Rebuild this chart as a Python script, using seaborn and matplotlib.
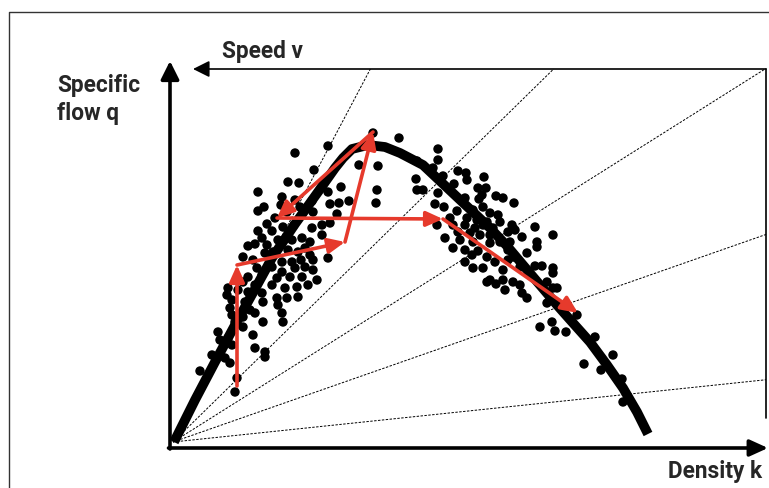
import matplotlib
matplotlib.use("Agg")
import matplotlib.pyplot as plt
import seaborn as sns

# Observations on the free-flow (uncongested) side of the diagram
density_free = [122, 155, 141, 186, 115, 126, 168, 85, 109, 108,
                122, 139, 155, 157, 166, 176, 91, 85, 114, 127,
                140, 164, 102, 94, 85, 99, 110, 121, 139, 149,
                157, 149, 89, 75, 82, 94, 105, 119, 129, 137,
                100, 92, 115, 125, 132, 137, 70, 80, 109, 119,
                128, 140, 155, 84, 99, 109, 122, 132, 140, 75,
                89, 104, 117, 129, 144, 70, 82, 99, 112, 124,
                135, 55, 65, 75, 54, 89, 104, 114, 125, 59,
                72, 90, 105, 57, 77, 59, 70, 82, 109, 90,
                62, 110, 70, 45, 80, 47, 55, 59, 82, 92,
                92, 39, 52, 57, 27, 64, 62, 200, 205, 204,
                203]
flow_free = [289, 296, 272, 277, 260, 259, 255, 250, 245, 237,
             242, 241, 250, 238, 239, 241, 235, 231, 230, 235,
             230, 228, 224, 218, 211, 211, 215, 217, 214, 217,
             219, 207, 204, 196, 198, 197, 202, 202, 204, 200,
             190, 189, 192, 190, 194, 187, 185, 182, 180, 180,
             182, 182, 184, 174, 175, 170, 174, 175, 172, 165,
             167, 164, 165, 165, 162, 160, 157, 157, 154, 155,
             157, 154, 152, 150, 147, 149, 144, 144, 145, 142,
             140, 140, 137, 134, 132, 127, 125, 129, 129, 120,
             120, 120, 115, 110, 107, 102, 104, 97, 94, 90,
             85, 87, 84, 79, 71, 64, 50, 309, 276, 252,
             239]

# Observations on the congested side
density_congested = [226, 265, 265, 244, 260, 285, 293, 270, 311, 243,
                     294, 281, 305, 313, 244, 250, 265, 309, 323, 330,
                     292, 306, 262, 271, 341, 310, 300, 284, 317, 325,
                     277, 294, 304, 314, 327, 264, 280, 292, 302, 310,
                     320, 339, 342, 362, 335, 285, 297, 307, 317, 349,
                     380, 272, 287, 300, 327, 337, 364, 317, 280, 292,
                     305, 335, 364, 354, 299, 314, 340, 292, 322, 335,
                     300, 310, 330, 347, 362, 369, 380, 380, 317, 330,
                     340, 347, 374, 314, 323, 332, 349, 354, 384, 380,
                     374, 377, 367, 379, 382, 393, 422, 440, 411, 428,
                     449, 450, 404]
flow_congested = [304, 293, 282, 281, 274, 271, 269, 266, 265, 263,
                  262, 258, 254, 254, 252, 252, 249, 247, 246, 244,
                  244, 243, 238, 235, 239, 235, 232, 231, 229, 227,
                  224, 224, 222, 220, 220, 217, 217, 217, 214, 217,
                  214, 217, 212, 215, 210, 210, 209, 207, 207, 205,
                  207, 204, 202, 200, 200, 200, 200, 199, 194, 192,
                  191, 192, 195, 189, 187, 185, 185, 180, 180, 182,
                  174, 174, 172, 175, 176, 176, 174, 169, 162, 162,
                  160, 157, 160, 160, 158, 152, 149, 144, 154, 154,
                  139, 144, 115, 120, 111, 110, 105, 87, 78, 72,
                  63, 40, 127]

# Fitted flow-density relation
curve_density = [1, 22, 42, 62, 82, 99, 122, 145, 162, 170,
                 179, 195, 212, 227, 250, 267, 284, 300, 317, 334,
                 350, 367, 384, 400, 417, 434, 450, 464, 475]
curve_flow = [0, 42, 80, 117, 153, 184, 218, 250, 274, 284,
              293, 297, 295, 289, 277, 261, 245, 230, 214, 196,
              177, 157, 137, 119, 100, 77, 54, 30, 8]

# A sequence of traffic states traced through the diagram
path_density = [64, 64, 172, 200, 104, 270, 405]
path_flow = [56, 177, 200, 310, 224, 223, 129]

# Constant-speed rays (speed = flow / density)
ray_speeds = [1.89, 0.98, 0.63, 0.35, 0.105]

K_MAX, Q_MAX = 593, 373
RED = "#e63a2c"
FONT = ["Roboto", "DejaVu Sans"]
LABEL_SIZE = 16.3
DOT_SIZE = 46

sns.set_theme(style="white")
fig = plt.figure(figsize=(7.69, 4.88), dpi=100)
ax = fig.add_axes([0, 0, 1, 1])
ax.set_xlim(-173, 596)
ax.set_ylim(-46, 442)
ax.axis("off")

# speed rays, clipped to the frame
for v in ray_speeds:
    k_end = min(K_MAX, Q_MAX / v)
    ax.plot([0, k_end], [0, v * k_end], color="black", lw=0.7,
            ls=(0, (2.5, 1.5)), zorder=1)

# right edge of the speed frame
ax.plot([K_MAX, K_MAX], [Q_MAX, 24], color="black", lw=1.2, zorder=1)

# speed axis (pointing left)
ax.annotate("", xy=(20, Q_MAX), xytext=(K_MAX, Q_MAX),
            arrowprops=dict(arrowstyle="-|>,head_length=10,head_width=5",
                            mutation_scale=1, lw=1.2, color="black",
                            shrinkA=0, shrinkB=0))

# flow and density axes
ax.annotate("", xy=(-3, 381), xytext=(-3, -7),
            arrowprops=dict(arrowstyle="-|>,head_length=11,head_width=5.5",
                            mutation_scale=1, lw=2.6, color="black",
                            shrinkA=0, shrinkB=0))
ax.annotate("", xy=(595, -6), xytext=(-4.5, -6),
            arrowprops=dict(arrowstyle="-|>,head_length=11,head_width=5",
                            mutation_scale=1, lw=2.6, color="black",
                            shrinkA=0, shrinkB=0))

# measurements
sns.scatterplot(x=density_free, y=flow_free, s=DOT_SIZE, color="black",
                edgecolor="none", linewidth=0, ax=ax, zorder=3, legend=False)
sns.scatterplot(x=density_congested, y=flow_congested, s=DOT_SIZE,
                color="black", edgecolor="none", linewidth=0, ax=ax,
                zorder=3, legend=False)

# fitted curve
sns.lineplot(x=curve_density, y=curve_flow, sort=False, estimator=None,
             color="black", lw=7, solid_capstyle="butt", ax=ax, zorder=4)

# trajectory of states
for i in range(len(path_density) - 1):
    ax.annotate("", xy=(path_density[i + 1], path_flow[i + 1]),
                xytext=(path_density[i], path_flow[i]),
                arrowprops=dict(arrowstyle="-|>,head_length=10,head_width=4.5",
                                mutation_scale=1, lw=2.6, color=RED,
                                shrinkA=0, shrinkB=0),
                zorder=5)

# outer frame
ax.plot([-164, -164, 596], [-46, 430, 430], color="#333333", lw=1.0)

# labels
ax.text(-116, 368, "Specific\nflow q", ha="left", va="top",
        fontsize=LABEL_SIZE, fontweight="bold", family=FONT, linespacing=1.3)
ax.text(49, 384, "Speed v", ha="left", va="baseline", fontsize=LABEL_SIZE,
        fontweight="bold", family=FONT)
ax.text(589, -36, "Density k", ha="right", va="baseline",
        fontsize=LABEL_SIZE, fontweight="bold", family=FONT)

fig.savefig("out.png", dpi=100)
